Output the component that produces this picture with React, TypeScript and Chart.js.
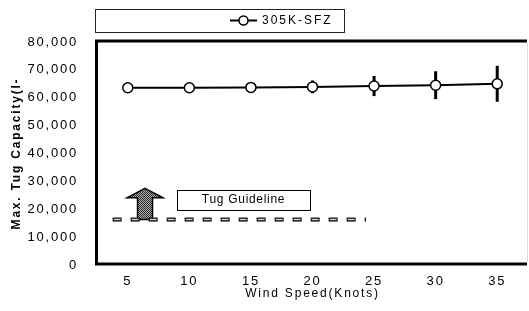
import { useEffect, useRef } from 'react';
import { Chart, registerables } from 'chart.js';

Chart.register(...registerables);

// ---- data ----
const windSpeeds = [5, 10, 15, 20, 25, 30, 35];
const capacity = [63600, 63600, 63700, 63900, 64200, 64500, 65000];
const capacityError = [0, 0, 0, 2300, 3600, 5000, 6450];
const yTickValues = [0, 10000, 20000, 30000, 40000, 50000, 60000, 70000, 80000];
const seriesLabel = '305K-SFZ';
const xTitle = 'Wind Speed(Knots)';
const yTitle = 'Max. Tug Capacity(I-';

// guideline annotation (data units)
const guidelineX = [3.77, 24.35];
const guidelineY = [16300, 16300];
const guidelineLabel = 'Tug Guideline';
const arrowX = 6.4;
const arrowFrom = 16300;
const arrowTo = 27500;
const labelBoxX = [9.0, 19.8];
const labelBoxY = [19700, 26900];

const FONT = "'Liberation Sans', Arial, sans-serif";

function makeStipple(ctx: CanvasRenderingContext2D) {
  const c = document.createElement('canvas');
  c.width = 2;
  c.height = 2;
  const g = c.getContext('2d')!;
  g.fillStyle = '#b0b0b0';
  g.fillRect(0, 0, 2, 2);
  g.fillStyle = '#2a2a2a';
  g.fillRect(0, 0, 1, 1);
  g.fillRect(1, 1, 1, 1);
  return ctx.createPattern(c, 'repeat');
}

const decor = {
  id: 'decor',
  beforeDraw(chart: any) {
    chart.ctx.letterSpacing = '1.8px';
  },
  beforeDatasetsDraw(chart: any) {
    const { ctx, scales } = chart;
    const x = scales.x;
    const y = scales.y;
    ctx.save();
    ctx.letterSpacing = '0px';
    // error bars
    ctx.strokeStyle = '#000';
    ctx.lineWidth = 3;
    ctx.lineCap = 'butt';
    windSpeeds.forEach((w, i) => {
      const e = capacityError[i];
      if (!e) return;
      const px = x.getPixelForValue(w);
      ctx.beginPath();
      ctx.moveTo(px, y.getPixelForValue(capacity[i] + e));
      ctx.lineTo(px, y.getPixelForValue(capacity[i] - e));
      ctx.stroke();
    });
    // arrow
    const ax = x.getPixelForValue(arrowX);
    const aTop = y.getPixelForValue(arrowTo);
    const aBot = y.getPixelForValue(arrowFrom);
    const headH = 9.5;
    const headW = 18;
    const shaftW = 7.5;
    ctx.beginPath();
    ctx.moveTo(ax, aTop);
    ctx.lineTo(ax + headW, aTop + headH);
    ctx.lineTo(ax + shaftW, aTop + headH);
    ctx.lineTo(ax + shaftW, aBot);
    ctx.lineTo(ax - shaftW, aBot);
    ctx.lineTo(ax - shaftW, aTop + headH);
    ctx.lineTo(ax - headW, aTop + headH);
    ctx.closePath();
    ctx.fillStyle = makeStipple(ctx) || '#888';
    ctx.fill();
    ctx.lineWidth = 1.5;
    ctx.strokeStyle = '#000';
    ctx.stroke();
    // label box
    const bx0 = x.getPixelForValue(labelBoxX[0]);
    const bx1 = x.getPixelForValue(labelBoxX[1]);
    const by0 = y.getPixelForValue(labelBoxY[1]);
    const by1 = y.getPixelForValue(labelBoxY[0]);
    ctx.fillStyle = '#fff';
    ctx.fillRect(bx0, by0, bx1 - bx0, by1 - by0);
    ctx.lineWidth = 1;
    ctx.strokeRect(Math.round(bx0) + 0.5, Math.round(by0) + 0.5, Math.round(bx1 - bx0), Math.round(by1 - by0));
    ctx.fillStyle = '#000';
    ctx.font = `12px ${FONT}`;
    ctx.letterSpacing = '0.7px';
    ctx.textAlign = 'center';
    ctx.textBaseline = 'middle';
    ctx.fillText(guidelineLabel, (bx0 + bx1) / 2, (by0 + by1) / 2);
    ctx.restore();
  },
  afterDraw(chart: any) {
    const { ctx, chartArea } = chart;
    const { left, right, top, bottom } = chartArea;
    ctx.save();
    ctx.letterSpacing = '0px';
    // frame
    ctx.strokeStyle = '#000';
    ctx.lineWidth = 3;
    ctx.lineCap = 'butt';
    ctx.beginPath();
    ctx.moveTo(right - 1, top - 1);
    ctx.lineTo(left - 0.5, top - 1);
    ctx.lineTo(left - 0.5, bottom - 1);
    ctx.lineTo(right - 1, bottom - 1);
    ctx.stroke();
    ctx.strokeStyle = '#ddd';
    ctx.lineWidth = 1;
    ctx.beginPath();
    ctx.moveTo(right - 0.5, top + 1);
    ctx.lineTo(right - 0.5, bottom - 3);
    ctx.stroke();
    // legend box
    const lx0 = 95, lx1 = 344, ly0 = 9, ly1 = 32;
    ctx.strokeStyle = '#222';
    ctx.lineWidth = 1;
    ctx.strokeRect(lx0 + 0.5, ly0 + 0.5, lx1 - lx0, ly1 - ly0);
    const my = (ly0 + ly1) / 2;
    ctx.strokeStyle = '#000';
    ctx.lineWidth = 2;
    ctx.beginPath();
    ctx.moveTo(230, my);
    ctx.lineTo(257, my);
    ctx.stroke();
    ctx.beginPath();
    ctx.arc(243.5, my, 4.5, 0, Math.PI * 2);
    ctx.fillStyle = '#fff';
    ctx.fill();
    ctx.lineWidth = 1.5;
    ctx.stroke();
    ctx.fillStyle = '#000';
    ctx.font = `12px ${FONT}`;
    ctx.letterSpacing = '2px';
    ctx.textAlign = 'left';
    ctx.textBaseline = 'middle';
    ctx.fillText(seriesLabel, 262, my + 0.5);
    ctx.restore();
  },
};

export default function App() {
  const ref = useRef<HTMLCanvasElement | null>(null);
  useEffect(() => {
    if (!ref.current) return;
    const chart = new Chart(ref.current, {
      type: 'line',
      data: {
        datasets: [
          {
            label: seriesLabel,
            data: windSpeeds.map((w, i) => ({ x: w, y: capacity[i] })),
            borderColor: '#000',
            borderWidth: 2,
            pointRadius: 5,
            pointBackgroundColor: '#fff',
            pointBorderColor: '#000',
            pointBorderWidth: 1.5,
            tension: 0,
          },
          {
            label: 'guide-inner',
            data: guidelineX.map((gx, i) => ({ x: gx, y: guidelineY[i] })),
            borderColor: '#d4d4d4',
            borderWidth: 1.6,
            borderDash: [7, 11],
            borderDashOffset: -1,
            borderCapStyle: 'butt',
            pointRadius: 0,
          },
          {
            label: 'guide-outer',
            data: guidelineX.map((gx, i) => ({ x: gx, y: guidelineY[i] })),
            borderColor: '#000',
            borderWidth: 4,
            borderDash: [9, 9],
            borderCapStyle: 'butt',
            pointRadius: 0,
          },
        ],
      },
      options: {
        animation: false,
        responsive: false,
        events: [],
        layout: { autoPadding: false, padding: { top: 42, right: 1, left: 0, bottom: 0 } },
        plugins: { legend: { display: false }, tooltip: { enabled: false } },
        scales: {
          x: {
            type: 'linear',
            min: 2.5,
            max: 37.5,
            afterBuildTicks: (s: any) => {
              s.ticks = windSpeeds.map((v) => ({ value: v }));
            },
            afterFit: (s: any) => {
              s.height = 46;
              s.paddingLeft = 0;
              s.paddingRight = 0;
            },
            grid: { display: false, drawTicks: false },
            border: { display: false },
            ticks: {
              padding: 9,
              color: '#000',
              font: { family: FONT, size: 13 },
              autoSkip: false,
              maxRotation: 0,
            },
            title: {
              display: true,
              text: xTitle,
              color: '#000',
              font: { family: FONT, size: 12 },
              padding: { top: 0, bottom: 10 },
            },
          },
          y: {
            min: 0,
            max: 80000,
            afterBuildTicks: (s: any) => {
              s.ticks = yTickValues.map((v) => ({ value: v }));
            },
            afterFit: (s: any) => {
              s.width = 97;
              s.paddingTop = 0;
              s.paddingBottom = 0;
            },
            grid: { display: false, drawTicks: false },
            border: { display: false },
            ticks: {
              padding: 19,
              color: '#000',
              font: { family: FONT, size: 13 },
              callback: (v: any) => Number(v).toLocaleString('en-US'),
            },
            title: {
              display: true,
              text: yTitle,
              color: '#000',
              font: { family: FONT, size: 12, weight: 'bold' },
              padding: { top: 9, bottom: 0 },
            },
          },
        },
      },
      plugins: [decor],
    } as any);
    return () => chart.destroy();
  }, []);
  return (
    <div style={{ position: 'fixed', left: 0, top: 0, width: 529, height: 311, background: '#fff' }}>
      <canvas ref={ref} width={529} height={311} style={{ display: 'block' }} />
    </div>
  );
}
